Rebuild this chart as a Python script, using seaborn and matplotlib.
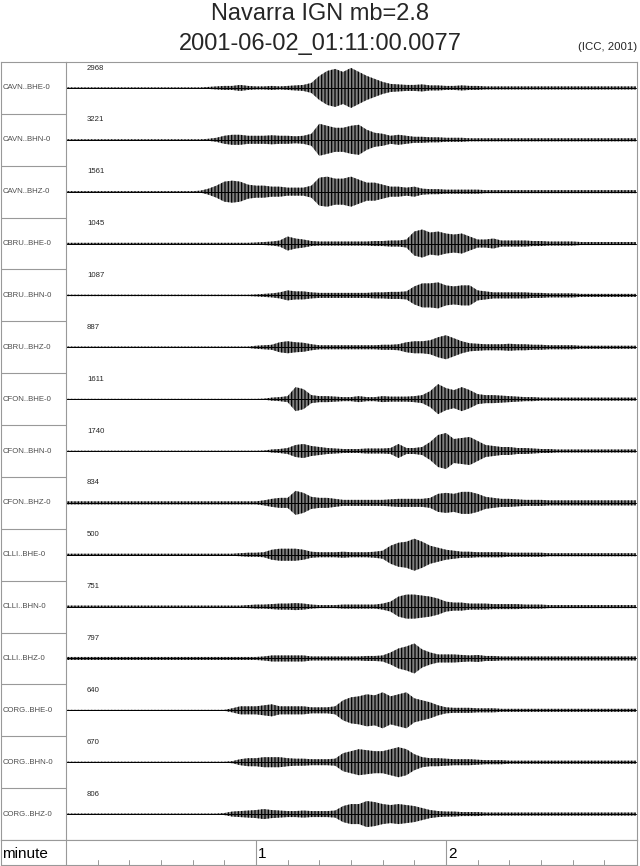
import numpy as np
import pandas as pd
import matplotlib
matplotlib.use("Agg")
import matplotlib.pyplot as plt
import seaborn as sns

# ---------------- data ----------------
stations = ["CAVN..BHE-0", "CAVN..BHN-0", "CAVN..BHZ-0",
            "CBRU..BHE-0", "CBRU..BHN-0", "CBRU..BHZ-0",
            "CFON..BHE-0", "CFON..BHN-0", "CFON..BHZ-0",
            "CLLI..BHE-0", "CLLI..BHN-0", "CLLI..BHZ-0",
            "CORG..BHE-0", "CORG..BHN-0", "CORG..BHZ-0"]
max_counts = [2968, 3221, 1561, 1045, 1087, 887, 1611, 1740, 834,
              500, 751, 797, 640, 670, 806]

# time of envelope samples, seconds after 01:11:00
time_s = [0, 2.5, 5, 7.5, 10, 12.5, 15, 17.5, 20, 22.5, 25, 27.5, 30, 32.5, 35, 37.5, 40,
          42.5, 45, 47.5, 50, 52.5, 55, 57.5, 60, 62.5, 65, 67.5, 70, 72.5, 75, 77.5, 80,
          82.5, 85, 87.5, 90, 92.5, 95, 97.5, 100, 102.5, 105, 107.5, 110, 112.5, 115,
          117.5, 120, 122.5, 125, 127.5, 130,
          132.5, 135, 137.5, 140, 142.5, 145, 147.5, 150, 152.5, 155, 157.5, 160, 162.5,
          165, 167.5, 170, 172.5, 175, 177.5, 180]

# half-amplitude envelope of each trace (pixel-like units, trace box = 51.85)
cavn_bhe = [0.5, 0.5, 0.5, 0.5, 0.5, 0.5, 0.5, 0.5, 0.5, 0.5, 0.5, 0.5, 0.5, 0.5, 0.5, 0.5, 0.5,
            0.5, 1, 1.5, 2, 2, 3, 2, 1.5, 1.5, 2, 1.5, 2, 2.5, 3, 5, 12, 17, 19, 16, 20,
            16, 12, 9, 6, 4, 3.5, 3, 3, 3.5, 2.5, 2.5, 2, 2, 2.5, 2, 2,
            1.5, 1.5, 1.5, 1.5, 1.5, 1.5, 1.5, 1.5, 1.5, 1.5, 1.5, 1.5, 1.5, 1.5, 1.5, 1.5,
            1.5, 1.5, 1.5, 1.5]
cavn_bhn = [0.5, 0.5, 0.5, 0.5, 0.5, 0.5, 0.5, 0.5, 0.5, 0.5, 0.5, 0.5, 0.5, 0.5, 0.5, 0.5, 0.5,
            0.5, 1, 2, 4, 5, 5, 4, 4, 4, 4.5, 4, 4, 3.5, 4, 6, 16, 14, 12, 12, 14,
            15, 10, 7, 6, 4, 5, 4, 3, 3, 2.5, 2.5, 2, 2, 2, 1.5, 1.5,
            1.5, 1.5, 1.5, 1.5, 1.5, 1.5, 1.5, 1.5, 1.5, 1.5, 1.5, 1.5, 1.5, 1.5, 1.5, 1.5,
            1.5, 1.5, 1.5, 1.5]
cavn_bhz = [0.5, 0.5, 0.5, 0.5, 0.5, 0.5, 0.5, 0.5, 0.5, 0.5, 0.5, 0.5, 0.5, 0.5, 0.5, 0.5, 0.5,
            1, 3, 6, 10, 11, 10, 7, 6, 6, 5, 5, 4, 4, 4, 6, 14, 15, 13, 13, 15,
            12, 9, 9, 7, 5, 5, 4, 5, 3, 2.5, 2.5, 2, 2, 2, 2, 2,
            1.5, 1.5, 1.5, 1.5, 1.5, 1.5, 1.5, 1.5, 1.5, 1.5, 1.5, 1.5, 1.5, 1.5, 1.5, 1.5,
            1.5, 1.5, 1.5, 1.5]
cbru_bhe = [0.7, 0.7, 0.7, 0.7, 0.7, 0.7, 0.7, 0.7, 0.7, 0.7, 0.7, 0.7, 0.7, 0.7, 0.7, 0.7, 0.7,
            0.7, 0.7, 0.7, 0.7, 0.7, 0.7, 0.7, 1, 1.5, 2, 3, 7, 5, 4, 2.5, 2, 2, 2, 2, 2,
            2, 2, 2.5, 2.5, 3, 3, 4, 12, 14, 11, 12, 10, 9, 10, 7, 4,
            4, 5, 3, 3, 3, 3, 2.5, 2.5, 2, 2, 2, 2, 1.5, 1.5, 1.5, 1.5,
            1.5, 1.5, 1.5, 1.5]
cbru_bhn = [0.7, 0.7, 0.7, 0.7, 0.7, 0.7, 0.7, 0.7, 0.7, 0.7, 0.7, 0.7, 0.7, 0.7, 0.7, 0.7, 0.7,
            0.7, 0.7, 0.7, 0.7, 0.7, 0.7, 0.7, 1, 1.5, 2, 3, 5, 4, 4, 3, 2.5, 2.5, 2.5, 2.5, 2.5,
            2.5, 2.5, 3, 3, 3.5, 3.5, 4, 9, 12, 12, 13, 10, 9, 10, 10, 5,
            4, 3, 3, 3, 3, 3, 2.5, 2.5, 2, 2, 2, 2, 1.5, 1.5, 1.5, 1.5,
            1.5, 1.5, 1.5, 1.5]
cbru_bhz = [0.7, 0.7, 0.7, 0.7, 0.7, 0.7, 0.7, 0.7, 0.7, 0.7, 0.7, 0.7, 0.7, 0.7, 0.7, 0.7, 0.7,
            0.7, 0.7, 0.7, 0.7, 0.7, 0.7, 0.7, 1.5, 2, 2.5, 5, 6, 5, 4.5, 3, 2, 2, 2, 2, 2,
            2, 2, 2, 2.5, 2.5, 3, 5, 6, 6, 7, 10, 12, 9, 6, 4, 3.5,
            3, 3, 3, 3.5, 3, 3, 2.5, 2.5, 2, 2, 2, 2, 1.5, 1.5, 1.5, 1.5,
            1.5, 1.5, 1.5, 1.5]
cfon_bhe = [0.3, 0.3, 0.3, 0.3, 0.3, 0.3, 0.3, 0.3, 0.3, 0.3, 0.3, 0.3, 0.3, 0.3, 0.3, 0.3, 0.3,
            0.3, 0.3, 0.3, 0.3, 0.3, 0.3, 0.3, 0.3, 0.5, 1.5, 2, 3, 12, 10, 4, 3, 3, 2.5, 2, 2,
            3, 2, 2, 3, 2.5, 2.5, 2.5, 3, 4, 8, 15, 11, 9, 12, 9, 5,
            4, 4, 3.5, 3, 2.5, 2, 2, 1.5, 1.5, 1.5, 1.5, 1.5, 1.5, 1.5, 1.5, 1.5,
            1.5, 1.5, 1.5, 1.5]
cfon_bhn = [0.3, 0.3, 0.3, 0.3, 0.3, 0.3, 0.3, 0.3, 0.3, 0.3, 0.3, 0.3, 0.3, 0.3, 0.3, 0.3, 0.3,
            0.3, 0.3, 0.3, 0.3, 0.3, 0.3, 0.3, 0.3, 0.5, 1.5, 2, 3, 6, 7, 5, 4, 3, 2.5, 2, 2,
            2, 2.5, 2.5, 2.5, 3, 7, 3, 3, 4, 9, 16, 18, 12, 13, 14, 10,
            6, 5, 4, 4, 3, 3, 2.5, 2, 2, 1.5, 1.5, 1.5, 1.5, 1.5, 1.5, 1.5,
            1.5, 1.5, 1.5, 1.5]
cfon_bhz = [1.5, 1.5, 1.5, 1.5, 1.5, 1.5, 1.5, 1.5, 1.5, 1.5, 1.5, 1.5, 1.5, 1.5, 1.5, 1.5, 1.5,
            1.5, 1.5, 1.5, 1.5, 1.5, 1.5, 1.5, 1.5, 2.5, 4, 5, 5, 12, 10, 6, 5, 5, 4, 3, 3,
            3, 3, 3, 3, 3.5, 4, 4, 4, 4, 5, 9, 10, 9, 11, 11, 9,
            6, 5, 4, 4, 3.5, 3, 3, 3, 2.5, 2.5, 2.5, 2.5, 2.5, 2.5, 2.5, 2.5,
            2.5, 2.5, 2.5, 2.5]
clli_bhe = [1, 1, 1, 1, 1, 1, 1, 1, 1, 1, 1, 1, 1, 1, 1, 1, 1,
            1, 1, 1, 1, 1, 1.5, 2, 2, 2.5, 5, 6, 6, 6, 5, 3, 2.5, 2.5, 2.5, 3, 2.5,
            2.5, 2.5, 3, 4, 9, 12, 13, 16, 13, 9, 7, 5, 4, 3, 3, 2.5,
            2.5, 2.5, 2.5, 2, 2, 2, 2, 2, 1.5, 1.5, 1.5, 1.5, 1.5, 1.5, 1.5, 1.5,
            1.5, 1.5, 1.5, 1.5]
clli_bhn = [1, 1, 1, 1, 1, 1, 1, 1, 1, 1, 1, 1, 1, 1, 1, 1, 1,
            1, 1, 1, 1, 1, 1, 1.5, 2, 2, 2.5, 3, 3, 3.5, 3, 2, 1.5, 1.5, 1.5, 2, 2,
            2, 2, 2, 3, 5, 10, 12, 12, 11, 10, 8, 5, 4, 4, 3, 3,
            3, 2.5, 2.5, 2.5, 2.5, 2, 2, 2, 1.5, 1.5, 1.5, 1.5, 1.5, 1.5, 1.5, 1.5,
            1.5, 1.5, 1.5, 1.5]
clli_bhz = [1.5, 1.5, 1.5, 1.5, 1.5, 1.5, 1.5, 1.5, 1.5, 1.5, 1.5, 1.5, 1.5, 1.5, 1.5, 1.5, 1.5,
            1.5, 1.5, 1.5, 1.5, 1.5, 1.5, 1.5, 1.5, 2, 3, 3, 3, 3, 3, 2, 2, 2, 2, 2, 2,
            2, 2.5, 2.5, 3, 6, 10, 12, 15, 9, 6, 4, 4, 4, 3.5, 3, 3.5,
            2.5, 2.5, 2, 2, 2, 2, 2, 2, 2, 2, 2, 2, 2, 2, 2, 2,
            2, 2, 2, 2]
corg_bhe = [0.5, 0.5, 0.5, 0.5, 0.5, 0.5, 0.5, 0.5, 0.5, 0.5, 0.5, 0.5, 0.5, 0.5, 0.5, 0.5, 0.5,
            0.5, 0.5, 0.5, 0.5, 2, 4, 4, 4, 5, 6, 4, 4, 4, 4, 3, 3, 3, 4, 10, 13,
            14, 16, 15, 18, 14, 16, 18, 12, 10, 8, 5, 3, 2.5, 2.5, 2.5, 2,
            2, 2, 1.5, 1.5, 1.5, 1.5, 1.5, 1.5, 1.5, 1.5, 1.5, 1.5, 1.5, 1.5, 1.5, 1.5,
            1.5, 1.5, 1.5, 1.5]
corg_bhn = [0.5, 0.5, 0.5, 0.5, 0.5, 0.5, 0.5, 0.5, 0.5, 0.5, 0.5, 0.5, 0.5, 0.5, 0.5, 0.5, 0.5,
            0.5, 0.5, 0.5, 0.5, 1, 3, 4, 4, 5, 5, 5, 4, 3.5, 3.5, 3, 3, 3, 3.5, 9, 11,
            13, 12, 11, 11, 13, 15, 13, 8, 5, 4, 4, 3.5, 3, 3, 3, 2.5,
            2, 2, 2, 1.5, 1.5, 1.5, 1.5, 1.5, 1.5, 1.5, 1.5, 1.5, 1.5, 1.5, 1.5, 1.5,
            1.5, 1.5, 1.5, 1.5]
corg_bhz = [0.5, 0.5, 0.5, 0.5, 0.5, 0.5, 0.5, 0.5, 0.5, 0.5, 0.5, 0.5, 0.5, 0.5, 0.5, 0.5, 0.5,
            0.5, 0.5, 0.5, 1, 2.5, 3, 3.5, 4, 5, 4, 3.5, 3, 3, 3.5, 3, 3, 3, 3.5, 8, 10,
            10, 13, 12, 10, 9, 10, 9, 8, 6, 4, 3, 2.5, 2.5, 2, 2, 2,
            1.5, 1.5, 1.5, 1.5, 1.5, 1.5, 1.5, 1.5, 1.5, 1.5, 1.5, 1.5, 1.5, 1.5, 1.5, 1.5,
            1.5, 1.5, 1.5, 1.5]

envelopes = [cavn_bhe, cavn_bhn, cavn_bhz, cbru_bhe, cbru_bhn, cbru_bhz,
             cfon_bhe, cfon_bhn, cfon_bhz, clli_bhe, clli_bhn, clli_bhz,
             corg_bhe, corg_bhn, corg_bhz]

minute_ticks = [1, 2]
minute_tick_labels = ["1", "2"]

title_line1 = "Navarra IGN mb=2.8"
title_line2 = "2001-06-02_01:11:00.0077"
credit = "(ICC, 2001)"

for e in envelopes:
    assert len(e) == len(time_s), len(e)

# ---------------- figure ----------------
sns.set_theme(style="white")
plt.rcParams["font.family"] = ["Liberation Sans", "DejaVu Sans"]
plt.rcParams["hatch.color"] = "black"
plt.rcParams["hatch.linewidth"] = 0.9

W, H = 640, 866
fig = plt.figure(figsize=(W / 100, H / 100), dpi=100)
frame_c = "0.6"

def fax(x0, y0, x1, y1):
    return fig.add_axes([x0 / W, 1 - y1 / H, (x1 - x0) / W, (y1 - y0) / H])

n = len(stations)
box = 51.85
top, bottom = 62, 840
ax = fax(66, top, 637, bottom)
lab = fax(1, top, 66, bottom)
mnx = fax(1, bottom, 637, 865)

tmin = np.array(time_s) / 60.0
rows = []
for i, (name, env) in enumerate(zip(stations, envelopes)):
    base = box * (i + 0.5)
    env = np.array(env, dtype=float)
    ax.fill_between(tmin, base - env, base + env, facecolor="0.5",
                    edgecolor="black", hatch="|||||", linewidth=0, zorder=2)
    for t in tmin:
        rows.append({"trace": name, "minute": t, "y": base})
df = pd.DataFrame(rows)
sns.lineplot(data=df, x="minute", y="y", hue="trace", palette=["black"] * n,
             estimator=None, legend=False, linewidth=0.7, ax=ax, zorder=3)

xmax = (637 - 66) / 190.0
ax.set_xlim(0, xmax)
ax.set_ylim(box * n, 0)
ax.set_xticks([]); ax.set_yticks([])
ax.set_xlabel(""); ax.set_ylabel("")
for s in ax.spines.values():
    s.set_color(frame_c); s.set_linewidth(0.8)
ax.spines["left"].set_visible(False)

for i, c in enumerate(max_counts):
    ax.text(0.11, box * i + 6, str(c), fontsize=5.6, color="0.15",
            ha="left", va="center")

# label column
lab.set_xlim(0, 1); lab.set_ylim(box * n, 0)
lab.set_xticks([]); lab.set_yticks([])
for s in lab.spines.values():
    s.set_color(frame_c); s.set_linewidth(0.8)
for k in range(1, n):
    lab.axhline(box * k, color=frame_c, lw=0.8)
for i, name in enumerate(stations):
    lab.text(0.03, box * (i + 0.5), name, fontsize=5.6, color="0.3",
             ha="left", va="center")

# minute row
x0m = -65 / 190.0
mnx.set_xlim(x0m, xmax); mnx.set_ylim(0, 1)
mnx.set_xticks([]); mnx.set_yticks([])
for s in mnx.spines.values():
    s.set_color(frame_c); s.set_linewidth(0.8)
mnx.axvline(0, color=frame_c, lw=0.8)
for m in np.arange(1, 18) / 6.0:
    mnx.plot([m, m], [0, 0.2], color=frame_c, lw=0.7)
for m, l in zip(minute_ticks, minute_tick_labels):
    mnx.axvline(m, color=frame_c, lw=0.8)
    mnx.text(m + 0.012, 0.45, l, fontsize=11, ha="left", va="center", color="black")
mnx.text(x0m + 0.008, 0.45, "minute", fontsize=11, ha="left", va="center", color="black")

fig.text(0.5, 1 - 14 / H, title_line1, fontsize=17, ha="center", va="center")
fig.text(0.5, 1 - 44 / H, title_line2, fontsize=17, ha="center", va="center")
fig.text(637 / W, 1 - 47 / H, credit, fontsize=8.2, ha="right", va="center")

fig.savefig("out.png", dpi=100)
